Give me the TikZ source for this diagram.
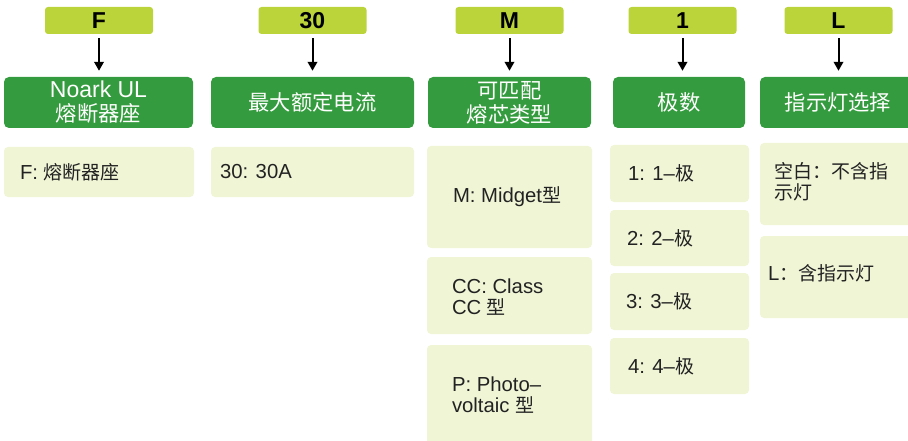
\documentclass[tikz,border=0pt]{standalone}
\usepackage{fontspec}
\setmainfont{Liberation Sans}
\newfontfamily\cjk{Noto Sans CJK SC}
\usetikzlibrary{arrows.meta}
\definecolor{lime}{HTML}{BBD43A}
\definecolor{hgreen}{HTML}{349C3E}
\definecolor{pale}{HTML}{F0F5D6}
\definecolor{ink}{HTML}{222222}
\newcommand\cj[1]{{\cjk\fontsize{19}{20.5}\selectfont #1}}
\newcommand\hcj[1]{{\cjk\fontsize{21.3}{24}\selectfont #1}}
\begin{document}
\begin{tikzpicture}[x=1pt,y=-1pt,
  codebox/.style={fill=lime, rounded corners=3pt, inner sep=0pt, minimum width=108pt, minimum height=27pt, font=\fontsize{23}{23}\selectfont\bfseries, text=black},
  headbox/.style={fill=hgreen, rounded corners=5pt, inner sep=0pt, minimum height=51pt, text=white, align=center, font=\fontsize{23}{24}\selectfont},
  lbox/.style={fill=pale, rounded corners=4pt, inner sep=0pt},
  ltext/.style={anchor=west, align=left, inner sep=0pt, text=ink, font=\fontsize{20.3}{20.5}\selectfont},
  arr/.style={-{Triangle[length=9pt,width=9.5pt]}, line width=2pt, black, shorten <=4pt, shorten >=6pt}
]
\useasboundingbox (0,0) rectangle (908,441);
% code boxes
\node[codebox] (cF) at (99,20.5) {F};
\node[codebox] (c30) at (312.5,20.5) {30};
\node[codebox] (cM) at (509.5,20.5) {M};
\node[codebox] (c1) at (682.5,20.5) {1};
\node[codebox] (cL) at (838.5,20.5) {L};
% header boxes
\node[headbox, minimum width=189pt] (hF) at (98.5,102.5) {Noark UL\\\hcj{熔断器座}};
\node[headbox, minimum width=203pt] (h30) at (312.5,102.5) {\hcj{最大额定电流}};
\node[headbox, minimum width=163pt] (hM) at (509.5,102.5) {\hcj{可匹配}\\\hcj{熔芯类型}};
\node[headbox, minimum width=132pt] (h1) at (679,102.5) {\hcj{极数}};
\node[headbox, minimum width=156pt] (hL) at (838,102.5) {\hcj{指示灯选择}};
% arrows
\draw[arr] (cF.south) -- (cF.south |- hF.north);
\draw[arr] (c30.south) -- (c30.south |- h30.north);
\draw[arr] (cM.south) -- (cM.south |- hM.north);
\draw[arr] (c1.south) -- (c1.south |- h1.north);
\draw[arr] (cL.south) -- (cL.south |- hL.north);
% light boxes
\node[lbox, minimum width=190pt, minimum height=50pt] (f1) at (99,172) {};
\node[lbox, minimum width=203pt, minimum height=50pt] (t1) at (312.5,172) {};
\node[lbox, minimum width=165pt, minimum height=102pt] (m1) at (509.5,197) {};
\node[lbox, minimum width=165pt, minimum height=77pt] (m2) at (509.5,295.5) {};
\node[lbox, minimum width=165pt, minimum height=100pt] (m3) at (509.5,395) {};
\node[lbox, minimum width=139pt, minimum height=57pt] (p1) at (679.5,173.5) {};
\node[lbox, minimum width=139pt, minimum height=56pt] (p2) at (679.5,238) {};
\node[lbox, minimum width=139pt, minimum height=57pt] (p3) at (679.5,301.5) {};
\node[lbox, minimum width=139pt, minimum height=56pt] (p4) at (679.5,366) {};
\node[lbox, minimum width=156pt, minimum height=82pt] (l1) at (838,184) {};
\node[lbox, minimum width=156pt, minimum height=82pt] (l2) at (838,277) {};
% texts
\node[ltext] (tf1) at ([xshift=16pt]f1.west) {F: \cj{熔断器座}};
\node[ltext] (tt1) at ([xshift=9pt]t1.west) {30: 30A};
\node[ltext] (tm1) at ([xshift=26pt]m1.west) {M: Midget\cj{型}};
\node[ltext] (tm2) at ([xshift=25pt,yshift=-1.5pt]m2.west) {CC: Class\\CC \cj{型}};
\node[ltext] (tm3) at ([xshift=25pt]m3.west) {P: Photo–\\voltaic \cj{型}};
\node[ltext] (tp1) at ([xshift=18pt]p1.west) {1: 1–\cj{极}};
\node[ltext] (tp2) at ([xshift=17pt]p2.west) {2: 2–\cj{极}};
\node[ltext] (tp3) at ([xshift=16pt]p3.west) {3: 3–\cj{极}};
\node[ltext] (tp4) at ([xshift=18pt]p4.west) {4: 4–\cj{极}};
\node[ltext] (tl1) at ([xshift=14pt,yshift=2.5pt]l1.west) {\cj{空白：不含指}\\\cj{示灯}};
\node[ltext] (tl2) at ([xshift=8pt,yshift=4pt]l2.west) {L\cj{：含指示灯}};
\end{tikzpicture}
\end{document}
